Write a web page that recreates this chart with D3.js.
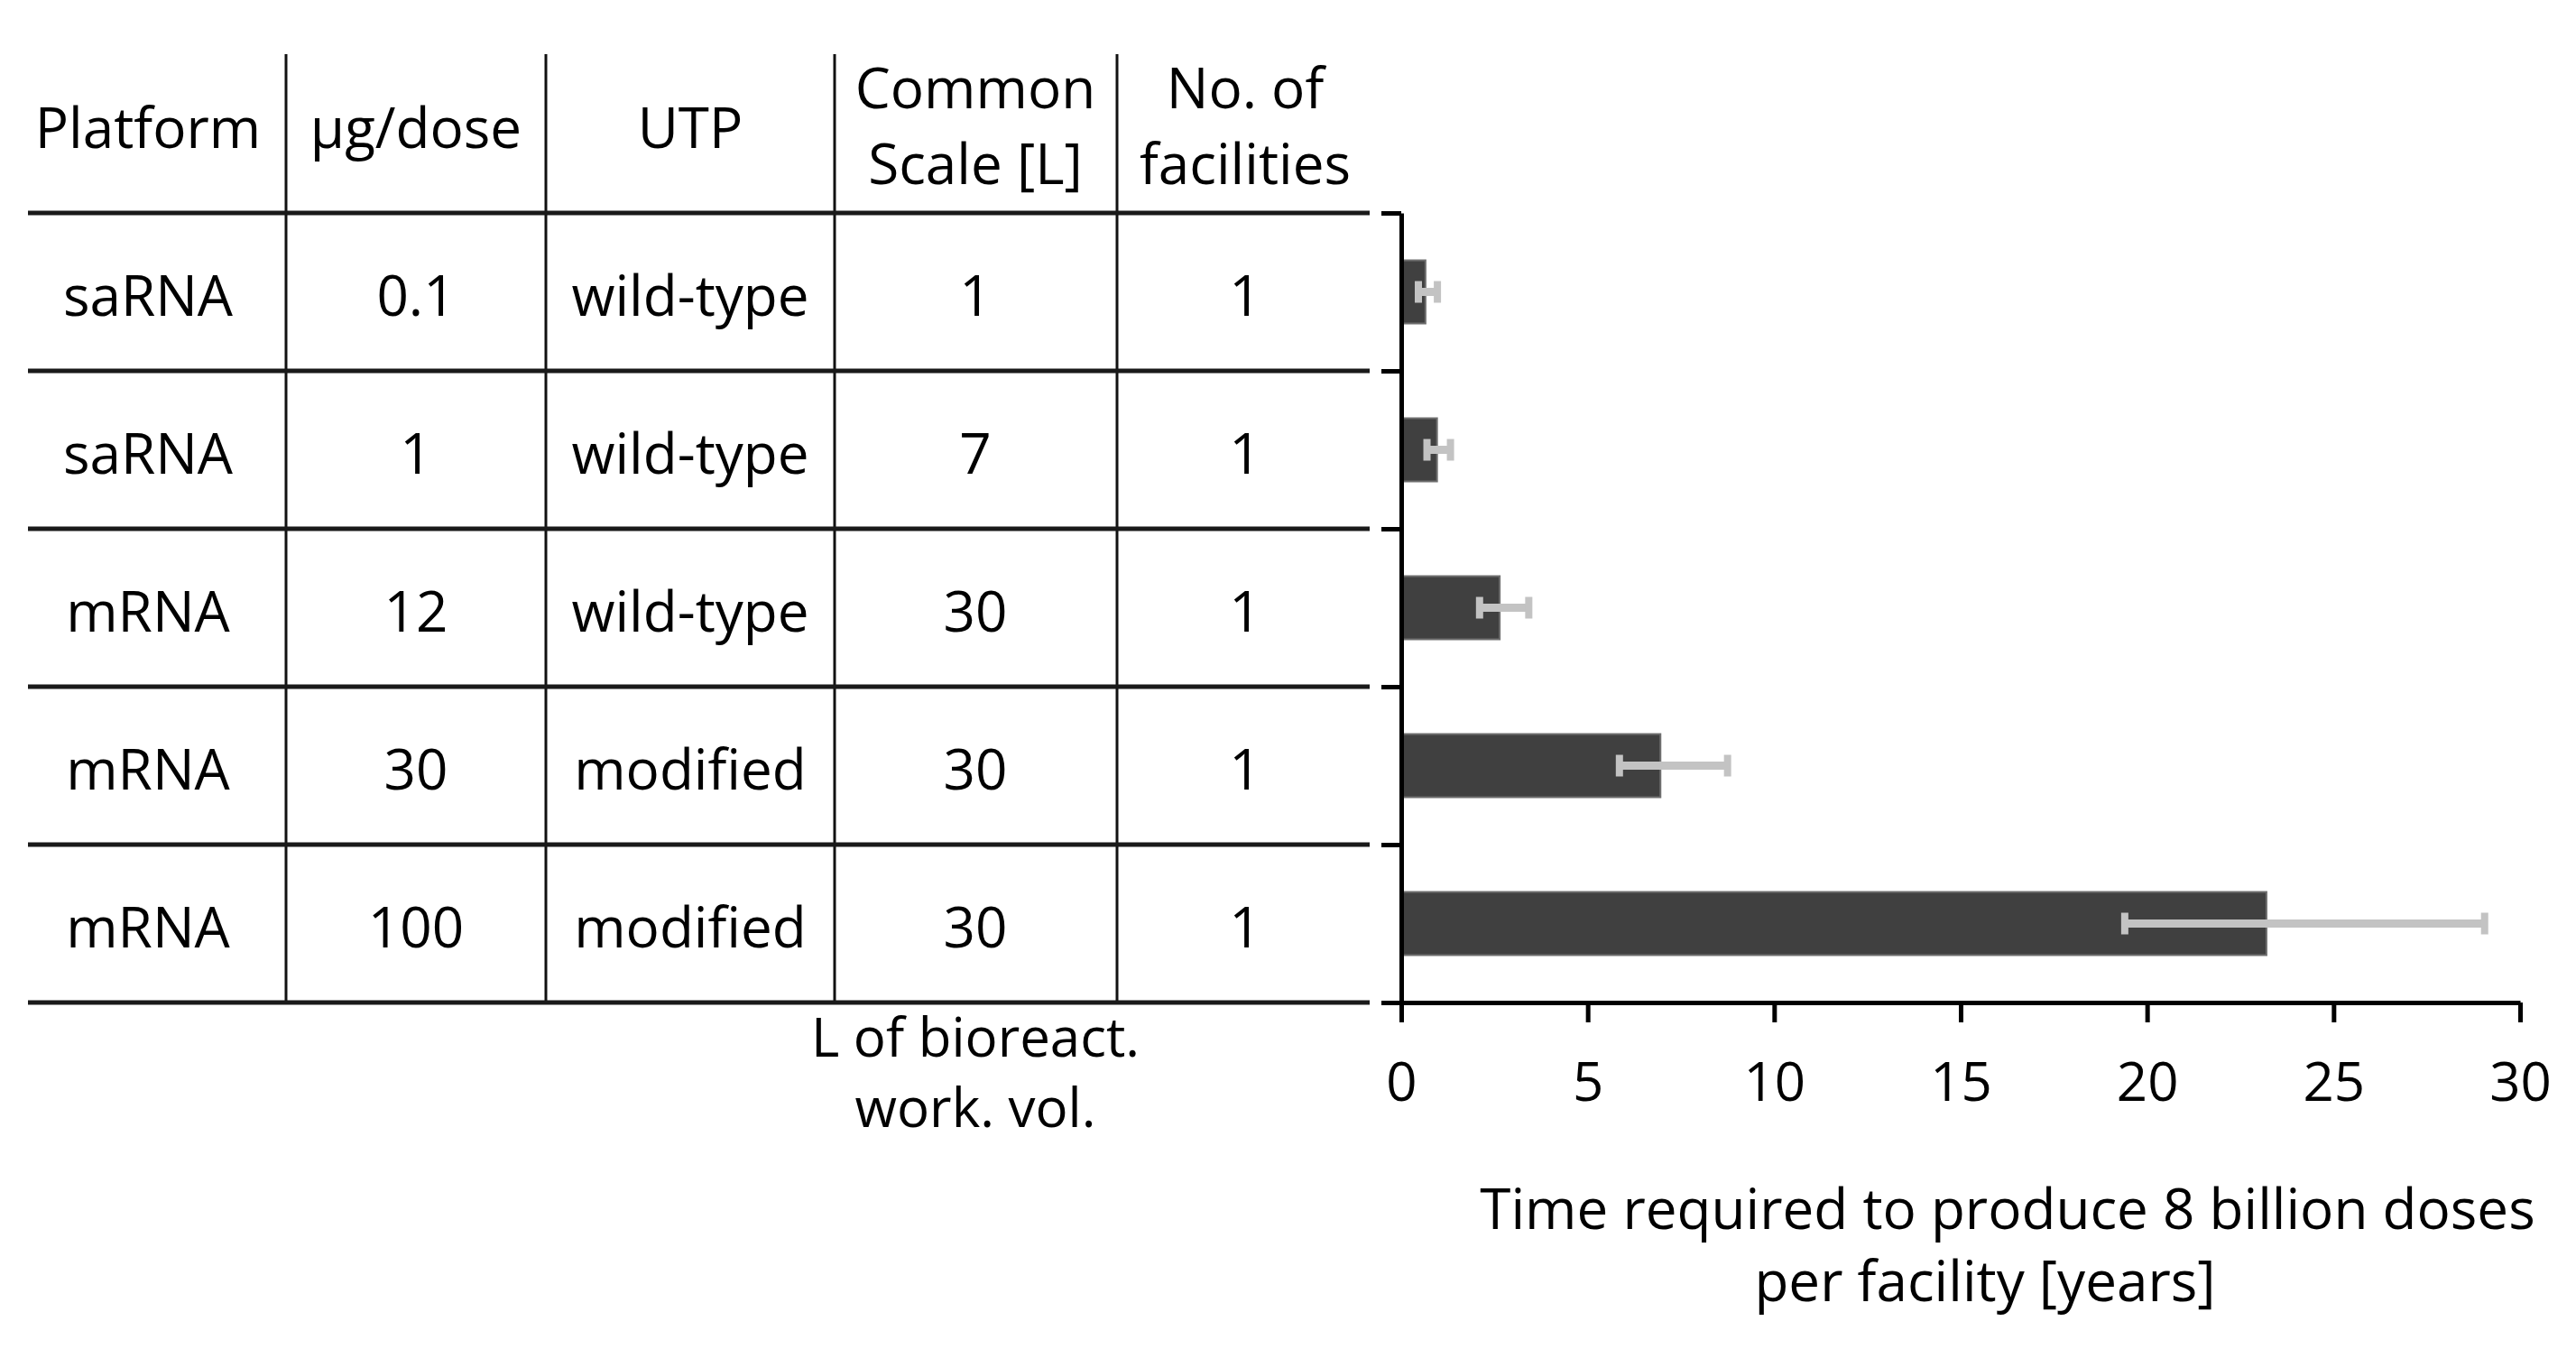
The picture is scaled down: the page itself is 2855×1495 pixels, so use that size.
<!DOCTYPE html>
<html lang="en">
<head>
    <meta charset="UTF-8">
    <title>Time to produce 8 billion doses</title>
    <script src="https://d3js.org/d3.v7.min.js"></script>
    <style>
        body {
            margin: 0;
            padding: 0;
            background-color: white;
        }
        svg {
            display: block;
            font-family: 'Open Sans', sans-serif;
        }
        .cell-text {
            font-size: 62px;
            text-anchor: middle;
            fill: black;
        }
        .note-text {
            font-size: 60px;
            text-anchor: middle;
            fill: black;
        }
        .tick text {
            font-size: 60px;
            font-family: 'Open Sans', sans-serif;
        }
    </style>
</head>
<body>
    <svg width="2855" height="1495"></svg>

    <script>
        // table content
        const headers = [["Platform"], ["µg/dose"], ["UTP"], ["Common", "Scale [L]"], ["No. of", "facilities"]];
        const platforms = ["saRNA", "saRNA", "mRNA", "mRNA", "mRNA"];
        const doses = ["0.1", "1", "12", "30", "100"];
        const utp = ["wild-type", "wild-type", "wild-type", "modified", "modified"];
        const scales = ["1", "7", "30", "30", "30"];
        const facilities = ["1", "1", "1", "1", "1"];

        // time required (years) with error range
        const years = [0.65, 0.96, 2.64, 6.95, 23.2];
        const errLow = [0.46, 0.69, 2.1, 5.85, 19.4];
        const errHigh = [0.97, 1.32, 3.42, 8.75, 29.05];
        const xTicks = [0, 5, 10, 15, 20, 25, 30];

        const svg = d3.select("svg");

        const tableTop = 236, tableBottom = 1111;
        const colLines = [317, 605, 925, 1238];
        const colCenters = [164, 461, 765, 1081, 1380];

        const rowScale = d3.scaleLinear()
                           .domain([0, platforms.length])
                           .range([tableTop, tableBottom]);

        const yScale = d3.scaleBand()
                         .domain(d3.range(platforms.length))
                         .range([tableTop, tableBottom])
                         .paddingInner(0.6)
                         .paddingOuter(0.3);

        const xScale = d3.scaleLinear()
                         .domain([0, 30])
                         .range([1553, 2793]);

        // table grid
        svg.selectAll(".vline")
            .data(colLines)
            .enter()
            .append("line")
            .attr("x1", d => d).attr("x2", d => d)
            .attr("y1", 60).attr("y2", tableBottom)
            .attr("stroke", "#111")
            .attr("stroke-width", 3);

        svg.selectAll(".hline")
            .data(d3.range(platforms.length + 1))
            .enter()
            .append("line")
            .attr("x1", 31).attr("x2", 1518)
            .attr("y1", d => rowScale(d)).attr("y2", d => rowScale(d))
            .attr("stroke", "#1a1a1a")
            .attr("stroke-width", 5);

        // header
        headers.forEach(function(h, i) {
            const baselines = h.length === 1 ? [164] : [120, 204];
            h.forEach(function(line, j) {
                svg.append("text")
                    .attr("class", "cell-text")
                    .attr("x", colCenters[i])
                    .attr("y", baselines[j])
                    .text(line);
            });
        });

        // body cells
        const columns = [platforms, doses, utp, scales, facilities];
        columns.forEach(function(col, i) {
            svg.selectAll(null)
                .data(col)
                .enter()
                .append("text")
                .attr("class", "cell-text")
                .attr("x", colCenters[i])
                .attr("y", (d, r) => (rowScale(r) + rowScale(r + 1)) / 2 + 26)
                .text(d => d);
        });

        svg.append("text").attr("class", "note-text")
            .attr("x", colCenters[3]).attr("y", 1171).text("L of bioreact.");
        svg.append("text").attr("class", "note-text")
            .attr("x", colCenters[3]).attr("y", 1249).text("work. vol.");

        // bars
        svg.selectAll(".bar")
            .data(years)
            .enter()
            .append("rect")
            .attr("x", xScale(0))
            .attr("y", (d, i) => yScale(i))
            .attr("width", d => xScale(d) - xScale(0))
            .attr("height", yScale.bandwidth())
            .attr("fill", "#404040")
            .attr("stroke", "#6e6e6e")
            .attr("stroke-width", 2);

        // error bars
        const errG = svg.append("g");
        years.forEach(function(d, i) {
            const cy = yScale(i) + yScale.bandwidth() / 2;
            errG.append("line")
                .attr("x1", xScale(errLow[i])).attr("x2", xScale(errHigh[i]))
                .attr("y1", cy).attr("y2", cy)
                .attr("stroke", "#c3c3c3")
                .attr("stroke-width", 9);
            [errLow[i], errHigh[i]].forEach(function(v) {
                errG.append("line")
                    .attr("x1", xScale(v)).attr("x2", xScale(v))
                    .attr("y1", cy - 12).attr("y2", cy + 12)
                    .attr("stroke", "#c3c3c3")
                    .attr("stroke-width", 8);
            });
        });

        // axes
        const yAxis = svg.append("g")
            .attr("transform", `translate(${xScale(0)},0)`)
            .call(d3.axisLeft(rowScale)
                .tickValues(d3.range(platforms.length + 1))
                .tickSize(22)
                .tickSizeOuter(0)
                .tickFormat(""));

        const xAxis = svg.append("g")
            .attr("transform", `translate(0,${tableBottom})`)
            .call(d3.axisBottom(xScale)
                .tickValues(xTicks)
                .tickSize(22)
                .tickSizeOuter(0)
                .tickPadding(44));

        [yAxis, xAxis].forEach(function(ax) {
            ax.select(".domain").attr("stroke", "black").attr("stroke-width", 5);
            ax.selectAll(".tick line").attr("stroke", "black").attr("stroke-width", 5);
            ax.selectAll(".tick text").attr("fill", "black");
        });

        // x axis title
        svg.append("text").attr("class", "cell-text")
            .attr("x", 2225).attr("y", 1362)
            .text("Time required to produce 8 billion doses");
        svg.append("text").attr("class", "cell-text")
            .attr("x", 2200).attr("y", 1442)
            .text("per facility [years]");
    </script>
</body>
</html>
